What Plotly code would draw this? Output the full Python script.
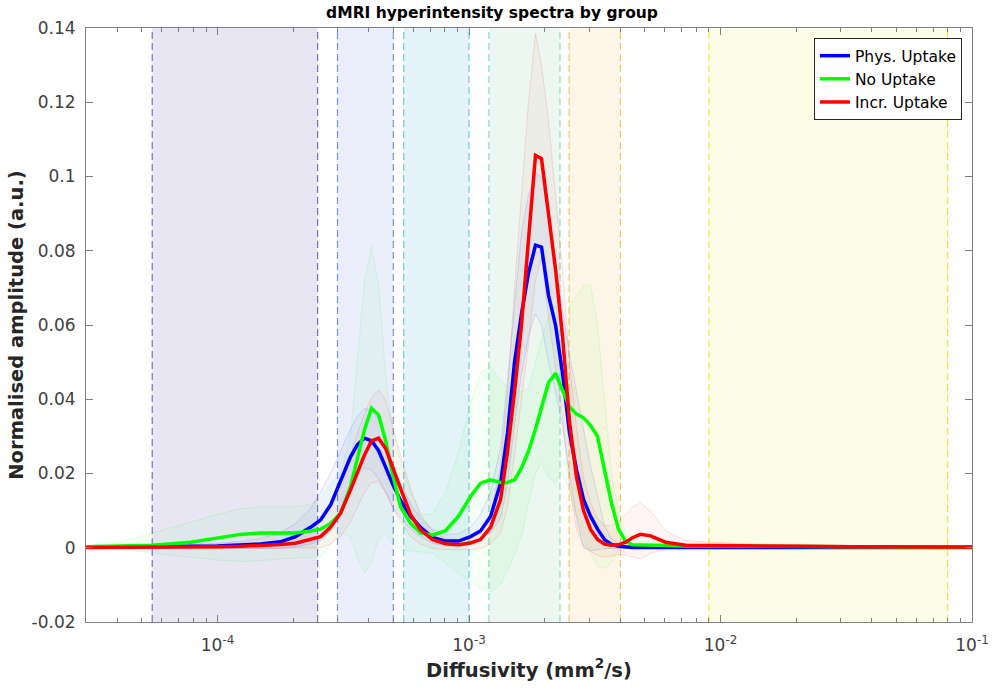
import plotly.graph_objects as go

# ---------------- data ----------------
diffusivity = [3.0e-5, 4.11e-5, 5.52e-5, 7.81e-5, 1.0e-4, 1.234e-4, 1.483e-4, 1.78e-4, 2.042e-4, 2.343e-4,
               2.568e-4, 2.814e-4, 3.084e-4, 3.38e-4, 3.603e-4, 3.841e-4, 4.096e-4, 4.367e-4, 4.656e-4, 4.964e-4,
               5.341e-4, 5.853e-4, 6.415e-4, 7.16e-4, 8.065e-4, 9.085e-4, 1.014e-3, 1.111e-3, 1.218e-3, 1.335e-3,
               1.423e-3, 1.517e-3, 1.617e-3, 1.724e-3, 1.838e-3, 1.942e-3, 2.071e-3, 2.208e-3, 2.354e-3, 2.509e-3,
               2.676e-3, 2.853e-3, 3.041e-3, 3.243e-3, 3.457e-3, 3.686e-3, 3.93e-3, 4.19e-3, 4.467e-3, 4.808e-3,
               5.269e-3, 6.045e-3, 7.258e-3, 9.125e-3, 1.316e-2, 2.08e-2, 3.288e-2, 5.196e-2, 1.0e-1]

phys_mean = [0.0002, 0.0002, 0.0003, 0.0004, 0.0005, 0.0007, 0.0010, 0.0016, 0.0030, 0.0055,
             0.0075, 0.0115, 0.0180, 0.0245, 0.0278, 0.0295, 0.0288, 0.0262, 0.0218, 0.0172,
             0.0128, 0.0085, 0.0055, 0.0028, 0.0018, 0.0018, 0.0030, 0.0045, 0.0084, 0.0174,
             0.0310, 0.0500, 0.0630, 0.0740, 0.0815, 0.0810, 0.0680, 0.0600, 0.0470, 0.0310,
             0.0210, 0.0130, 0.0085, 0.0050, 0.0022, 0.0009, 0.0004, 0.0002, 0.0001, 0.0001,
             0.0001, 0.0001, 0.0001, 0.0001, 0.0001, 0.0001, 0.0001, 0.0001, 0.0001]
phys_upper = [0.0004, 0.0005, 0.0006, 0.0009, 0.0012, 0.0017, 0.0025, 0.0040, 0.0065, 0.0105,
              0.0150, 0.0200, 0.0260, 0.0320, 0.0355, 0.0375, 0.0370, 0.0345, 0.0290, 0.0230,
              0.0175, 0.0120, 0.0080, 0.0050, 0.0035, 0.0038, 0.0055, 0.0090, 0.0150, 0.0270,
              0.0450, 0.0650, 0.0850, 0.0950, 0.1010, 0.1000, 0.0880, 0.0760, 0.0640, 0.0520,
              0.0420, 0.0320, 0.0220, 0.0140, 0.0060, 0.0025, 0.0012, 0.0006, 0.0004, 0.0003,
              0.0003, 0.0003, 0.0003, 0.0003, 0.0002, 0.0002, 0.0002, 0.0002, 0.0002]
phys_lower = [0.0000, 0.0000, 0.0000, 0.0000, -0.0001, -0.0001, -0.0002, -0.0002, 0.0003, 0.0010,
              0.0020, 0.0045, 0.0090, 0.0150, 0.0195, 0.0215, 0.0210, 0.0185, 0.0150, 0.0110,
              0.0080, 0.0050, 0.0030, 0.0012, 0.0005, 0.0002, 0.0010, 0.0025, 0.0040, 0.0080,
              0.0170, 0.0330, 0.0470, 0.0570, 0.0630, 0.0600, 0.0500, 0.0420, 0.0330, 0.0200,
              0.0080, 0.0000, -0.0008, -0.0005, -0.0003, -0.0002, -0.0002, -0.0001, -0.0001, -0.0001,
              0.0, 0.0, 0.0, 0.0, 0.0, 0.0, 0.0, 0.0, 0.0]

none_mean = [0.0003, 0.0005, 0.0007, 0.0015, 0.0026, 0.0036, 0.0040, 0.0041, 0.0040, 0.0045,
             0.0050, 0.0065, 0.0093, 0.0165, 0.0240, 0.0318, 0.0376, 0.0358, 0.0290, 0.0200,
             0.0110, 0.0066, 0.0040, 0.0034, 0.0046, 0.0085, 0.0138, 0.0174, 0.0183, 0.0176,
             0.0176, 0.0183, 0.0215, 0.0260, 0.0320, 0.0380, 0.0445, 0.0470, 0.0425, 0.0380,
             0.0360, 0.0350, 0.0330, 0.0300, 0.0210, 0.0120, 0.0050, 0.0018, 0.0008, 0.0007,
             0.0006, 0.0006, 0.0005, 0.0005, 0.0004, 0.0003, 0.0003, 0.0002, 0.0002]
none_upper = [0.0005, 0.0015, 0.0040, 0.0070, 0.0090, 0.0105, 0.0110, 0.0110, 0.0110, 0.0118,
              0.0135, 0.0170, 0.0200, 0.0300, 0.0500, 0.0720, 0.0811, 0.0713, 0.0470, 0.0320,
              0.0236, 0.0150, 0.0090, 0.0090, 0.0150, 0.0260, 0.0390, 0.0470, 0.0488, 0.0450,
              0.0434, 0.0420, 0.0420, 0.0430, 0.0500, 0.0560, 0.0620, 0.0650, 0.0640, 0.0650,
              0.0680, 0.0705, 0.0710, 0.0600, 0.0400, 0.0200, 0.0100, 0.0040, 0.0025, 0.0020,
              0.0015, 0.0012, 0.0010, 0.0009, 0.0007, 0.0005, 0.0004, 0.0003, 0.0003]
none_lower = [0.0000, -0.0003, -0.0014, -0.0025, -0.0033, -0.0037, -0.0035, -0.0030, -0.0028, -0.0028,
              -0.0025, 0.0010, 0.0040, 0.0030, -0.0030, -0.0068, -0.0040, 0.0020, 0.0040, 0.0010,
              -0.0006, -0.0008, -0.0012, -0.0015, -0.0040, -0.0070, -0.0090, -0.0110, -0.0118, -0.0100,
              -0.0060, -0.0020, 0.0030, 0.0120, 0.0200, 0.0230, 0.0190, 0.0175, 0.0200, 0.0150,
              0.0090, 0.0030, -0.0015, -0.0050, -0.0055, -0.0040, -0.0005, 0.0005, 0.0000, 0.0000,
              0.0, 0.0, 0.0, 0.0, 0.0, 0.0, 0.0, 0.0, 0.0]

incr_mean = [0.0001, 0.0001, 0.0001, 0.0002, 0.0003, 0.0004, 0.0006, 0.0009, 0.0012, 0.0022,
             0.0030, 0.0055, 0.0093, 0.0156, 0.0205, 0.0250, 0.0288, 0.0295, 0.0268, 0.0215,
             0.0160, 0.0090, 0.0048, 0.0022, 0.0011, 0.0008, 0.0013, 0.0022, 0.0055, 0.0130,
             0.0260, 0.0420, 0.0600, 0.0830, 0.1057, 0.1048, 0.0900, 0.0750, 0.0570, 0.0340,
             0.0190, 0.0100, 0.0050, 0.0022, 0.0010, 0.0007, 0.0008, 0.0015, 0.0027, 0.0036,
             0.0032, 0.0015, 0.0007, 0.0006, 0.0004, 0.0004, 0.0003, 0.0003, 0.0002]
incr_upper = [0.0003, 0.0004, 0.0005, 0.0007, 0.0009, 0.0011, 0.0014, 0.0018, 0.0025, 0.0045,
              0.0070, 0.0110, 0.0170, 0.0250, 0.0310, 0.0360, 0.0405, 0.0425, 0.0400, 0.0330,
              0.0250, 0.0160, 0.0090, 0.0045, 0.0025, 0.0020, 0.0035, 0.0050, 0.0090, 0.0220,
              0.0420, 0.0700, 0.0950, 0.1200, 0.1385, 0.1300, 0.1150, 0.0950, 0.0750, 0.0500,
              0.0320, 0.0190, 0.0120, 0.0080, 0.0060, 0.0060, 0.0070, 0.0090, 0.0110, 0.0120,
              0.0100, 0.0045, 0.0020, 0.0015, 0.0010, 0.0008, 0.0006, 0.0005, 0.0004]
incr_lower = [0.0000, -0.0001, -0.0001, -0.0002, -0.0002, -0.0002, -0.0002, -0.0002, -0.0002, 0.0000,
              0.0000, 0.0010, 0.0030, 0.0070, 0.0110, 0.0150, 0.0175, 0.0178, 0.0150, 0.0110,
              0.0070, 0.0030, 0.0010, -0.0002, -0.0005, -0.0006, -0.0005, -0.0002, 0.0010, 0.0040,
              0.0110, 0.0250, 0.0400, 0.0550, 0.0720, 0.0780, 0.0620, 0.0480, 0.0350, 0.0170,
              0.0050, 0.0005, -0.0010, -0.0020, -0.0025, -0.0022, -0.0018, -0.0020, -0.0025, -0.0030,
              -0.0015, -0.0003, 0.0, 0.0, 0.0, 0.0, 0.0, 0.0, 0.0]

band_edges = [(5.5e-5, 2.5e-4), (3.0e-4, 5.0e-4), (5.5e-4, 1.0e-3),
              (1.2e-3, 2.3e-3), (2.5e-3, 4.0e-3), (9.0e-3, 8.0e-2)]
band_fill = ["rgb(232,230,243)", "rgb(235,239,252)", "rgb(228,243,249)",
             "rgb(235,247,240)", "rgb(253,245,231)", "rgb(252,253,231)"]
band_line = ["rgb(120,110,200)", "rgb(115,145,240)", "rgb(110,200,232)",
             "rgb(140,220,185)", "rgb(245,200,100)", "rgb(240,228,60)"]

groups = [
    ("Phys. Uptake", phys_mean, phys_upper, phys_lower, (0, 0, 255)),
    ("No Uptake", none_mean, none_upper, none_lower, (0, 255, 0)),
    ("Incr. Uptake", incr_mean, incr_upper, incr_lower, (255, 0, 0)),
]

y_min, y_max = -0.02, 0.14
y_ticks = [-0.02, 0, 0.02, 0.04, 0.06, 0.08, 0.1, 0.12, 0.14]
y_tick_text = ["-0.02", "0", "0.02", "0.04", "0.06", "0.08", "0.1", "0.12", "0.14"]
x_ticks = [1e-4, 1e-3, 1e-2, 1e-1]
x_tick_text = ["10<sup>-4</sup>", "10<sup>-3</sup>", "10<sup>-2</sup>", "10<sup>-1</sup>"]
x_minor = [4e-5, 5e-5, 6e-5, 7e-5, 8e-5, 9e-5,
           2e-4, 3e-4, 4e-4, 5e-4, 6e-4, 7e-4, 8e-4, 9e-4,
           2e-3, 3e-3, 4e-3, 5e-3, 6e-3, 7e-3, 8e-3, 9e-3,
           2e-2, 3e-2, 4e-2, 5e-2, 6e-2, 7e-2, 8e-2, 9e-2]

# ---------------- figure ----------------
fig = go.Figure()

# shaded diffusivity compartments
for (a, b), fc, lc in zip(band_edges, band_fill, band_line):
    fig.add_trace(go.Scatter(x=[a, a, b, b, a], y=[y_min, y_max, y_max, y_min, y_min],
                             mode="lines", fill="toself", fillcolor=fc,
                             line=dict(width=0), hoverinfo="skip", showlegend=False))
for (a, b), fc, lc in zip(band_edges, band_fill, band_line):
    fig.add_trace(go.Scatter(x=[a, a, None, b, b], y=[y_min, y_max, None, y_min, y_max],
                             mode="lines", line=dict(color=lc, width=1.2, dash="7px,4px"),
                             hoverinfo="skip", showlegend=False))

# std envelopes
for name, m, up, lo, c in groups:
    rgba_l = "rgba(%d,%d,%d,0.13)" % c
    rgba_f = "rgba(%d,%d,%d,0.04)" % c
    fig.add_trace(go.Scatter(x=diffusivity, y=lo, mode="lines",
                             line=dict(color=rgba_l, width=1), hoverinfo="skip", showlegend=False))
    fig.add_trace(go.Scatter(x=diffusivity, y=up, mode="lines", fill="tonexty", fillcolor=rgba_f,
                             line=dict(color=rgba_l, width=1), hoverinfo="skip", showlegend=False))

# mean spectra
for name, m, up, lo, c in groups:
    fig.add_trace(go.Scatter(x=diffusivity, y=m, mode="lines", name=name,
                             line=dict(color="rgb(%d,%d,%d)" % c, width=3.5)))

axis_col = "#808080"
tick_font = dict(family="DejaVu Sans", size=17, color="#404040")

fig.update_layout(
    width=994, height=693,
    margin=dict(l=86, r=22, t=28, b=71),
    paper_bgcolor="white", plot_bgcolor="white",
    title=dict(text="<b>dMRI hyperintensity spectra by group</b>", x=0.495, xanchor="center",
               y=0.982, yanchor="middle",
               font=dict(family="DejaVu Sans", size=15.5, color="black")),
    legend=dict(x=0.9887, xanchor="right", y=0.983, yanchor="top", traceorder="normal",
                bgcolor="white", bordercolor="#262626", borderwidth=1,
                font=dict(family="DejaVu Sans", size=15.5, color="black"),
                tracegroupgap=0, itemwidth=30),
    xaxis=dict(type="log", range=[-4.5229, -1.0], showgrid=False, zeroline=False,
               automargin=False,
               showline=True, linecolor=axis_col, linewidth=1, mirror="ticks",
               ticks="inside", ticklen=7, tickcolor=axis_col,
               tickmode="array", tickvals=x_ticks, ticktext=x_tick_text,
               ticklabelstandoff=8,
               minor=dict(tickmode="array", tickvals=x_minor, ticks="inside", ticklen=4,
                          tickcolor=axis_col, showgrid=False),
               tickfont=tick_font,
               title=dict(text="<b>Diffusivity (mm<sup>2</sup>/s)</b>", standoff=6,
                          font=dict(family="DejaVu Sans", size=19.5, color="#262626"))),
    yaxis=dict(range=[y_min, y_max], showgrid=False, zeroline=False,
               automargin=False,
               showline=True, linecolor=axis_col, linewidth=1, mirror="ticks",
               ticks="inside", ticklen=7, tickcolor=axis_col,
               tickmode="array", tickvals=y_ticks, ticktext=y_tick_text, tickfont=tick_font,
               ticklabelstandoff=6,
               title=dict(text="<b>Normalised amplitude (a.u.)</b>", standoff=2,
                          font=dict(family="DejaVu Sans", size=19.5, color="#262626"))),
)

fig.write_html("out.html")
